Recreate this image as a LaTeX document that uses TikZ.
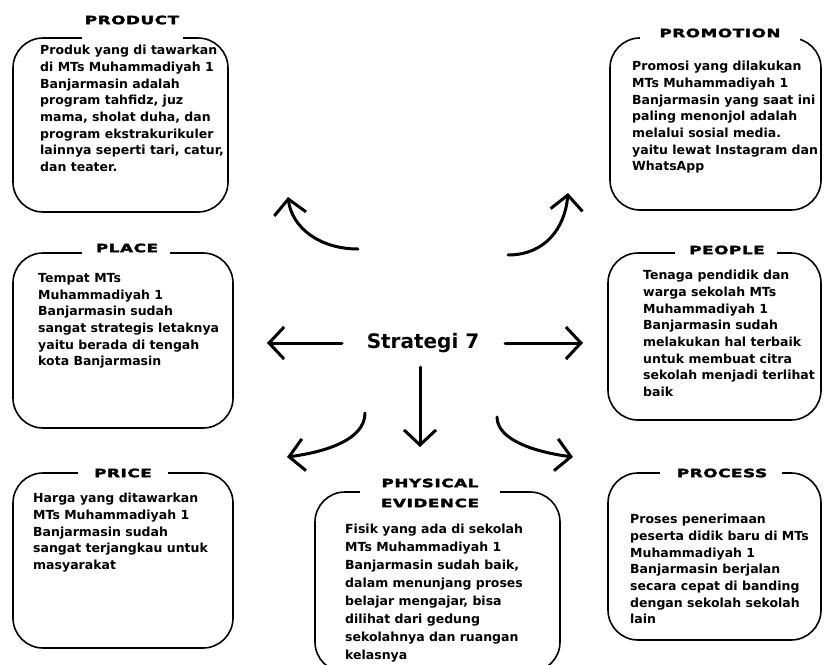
\documentclass[tikz,border=0pt]{standalone}
\usepackage{fontspec}
\setmainfont{DejaVu Sans}
\newfontfamily\titlefont[LetterSpace=4,FakeBold=2.5]{DejaVu Sans Bold}
\usetikzlibrary{arrows.meta}
\tikzset{
  frame/.style={draw, line width=1.6pt, rounded corners=30pt, inner sep=0pt},
  gapmask/.style={fill=white},
  ttl/.style={font=\titlefont\fontsize{11.5}{13}\selectfont, inner sep=0pt, align=center, xscale=1.45, transform shape},
  body/.style={font=\bfseries\fontsize{12.5}{16.7}\selectfont, inner sep=0pt, anchor=north west, align=left},
  arr/.style={line width=3pt, line cap=round, -{Straight Barb[length=15pt,width=32pt,line width=3pt]}},
}
\begin{document}
\begin{tikzpicture}[x=1pt,y=-1pt]
\useasboundingbox (0,0) rectangle (824,664);
\fill[white] (0,0) rectangle (824,664);
\clip (0,0) rectangle (824,664);
% boxes
\node[frame, minimum width=215pt, minimum height=174pt] (product) at (120.5,125) {};
\node[frame, minimum width=211pt, minimum height=172pt] (promotion) at (715.5,124) {};
\node[frame, minimum width=220pt, minimum height=175pt] (place) at (123,340.5) {};
\node[frame, minimum width=213pt, minimum height=167pt] (people) at (714.5,336.5) {};
\node[frame, minimum width=220pt, minimum height=175pt] (price) at (123,560.5) {};
\node[frame, minimum width=245pt, minimum height=180pt] (physical) at (437.5,582) {};
\node[frame, minimum width=213pt, minimum height=167pt] (process) at (714.5,556.5) {};
% gaps in top lines
\fill[gapmask] (82,34) rectangle (183,42);
\fill[gapmask] (640,34) rectangle (800,42);
\fill[gapmask] (82,249) rectangle (170,257);
\fill[gapmask] (675,249) rectangle (777,257);
\fill[gapmask] (78,469) rectangle (168,477);
\fill[gapmask] (360,488) rectangle (500,496);
\fill[gapmask] (660,469) rectangle (782,477);
% titles
\node[ttl] (tproduct) at (132,20) {PRODUCT};
\node[ttl] (tpromotion) at (720,33) {PROMOTION};
\node[ttl] (tplace) at (127,248) {PLACE};
\node[ttl] (tpeople) at (727,250) {PEOPLE};
\node[ttl] (tprice) at (123,473) {PRICE};
\node[ttl] (tphysical1) at (430,483) {PHYSICAL};
\node[ttl] (tphysical2) at (430,503) {EVIDENCE};
\node[ttl] (tprocess) at (722,473) {PROCESS};
% body texts
\node[body] (bproduct) at (40,45) {Produk yang di tawarkan\\di MTs Muhammadiyah 1\\Banjarmasin adalah\\program tahfidz, juz\\mama, sholat duha, dan\\program ekstrakurikuler\\lainnya seperti tari, catur,\\dan teater.};
\node[body] (bpromotion) at (632,61) {Promosi yang dilakukan\\MTs Muhammadiyah 1\\Banjarmasin yang saat ini\\paling menonjol adalah\\melalui sosial media.\\yaitu lewat Instagram dan\\WhatsApp};
\node[body] (bplace) at (38,273) {Tempat MTs\\Muhammadiyah 1\\Banjarmasin sudah\\sangat strategis letaknya\\yaitu berada di tengah\\kota Banjarmasin};
\node[body] (bpeople) at (643,270) {Tenaga pendidik dan\\warga sekolah MTs\\Muhammadiyah 1\\Banjarmasin sudah\\melakukan hal terbaik\\untuk membuat citra\\sekolah menjadi terlihat\\baik};
\node[body] (bprice) at (33,493) {Harga yang ditawarkan\\MTs Muhammadiyah 1\\Banjarmasin sudah\\sangat terjangkau untuk\\masyarakat};
\node[body, font=\bfseries\fontsize{12.5}{18}\selectfont] (bphysical) at (345,524) {Fisik yang ada di sekolah\\MTs Muhammadiyah 1\\Banjarmasin sudah baik,\\dalam menunjang proses\\belajar mengajar, bisa\\dilihat dari gedung\\sekolahnya dan ruangan\\kelasnya};
\node[body] (bprocess) at (630,514) {Proses penerimaan\\peserta didik baru di MTs\\Muhammadiyah 1\\Banjarmasin berjalan\\secara cepat di banding\\dengan sekolah sekolah\\lain};
% centre
\node[font=\bfseries\fontsize{20}{24}\selectfont, inner sep=2pt] (S) at (423,343) {Strategi 7};
% arrow end points
\coordinate (ulS) at (358,249); \coordinate (ulE) at (288,197);
\coordinate (urS) at (508,255); \coordinate (urE) at (568,193);
\coordinate (lS) at (342,343);  \coordinate (lE) at (267,343);
\coordinate (rS) at (505,343);  \coordinate (rE) at (583,343);
\coordinate (dS) at (420,367);  \coordinate (dE) at (420,447);
\coordinate (llS) at (365,413); \coordinate (llE) at (287,457);
\coordinate (lrS) at (497,417); \coordinate (lrE) at (573,457);
\draw[arr] (ulS) .. controls (320,249) and (292,228) .. (ulE);
\draw[arr] (urS) .. controls (545,255) and (565,228) .. (urE);
\draw[arr] (lS) -- (lE);
\draw[arr] (rS) -- (rE);
\draw[arr] (dS) -- (dE);
\draw[arr] (llS) .. controls (365,440) and (325,452) .. (llE);
\draw[arr] (lrS) .. controls (497,440) and (535,452) .. (lrE);
\end{tikzpicture}
\end{document}
